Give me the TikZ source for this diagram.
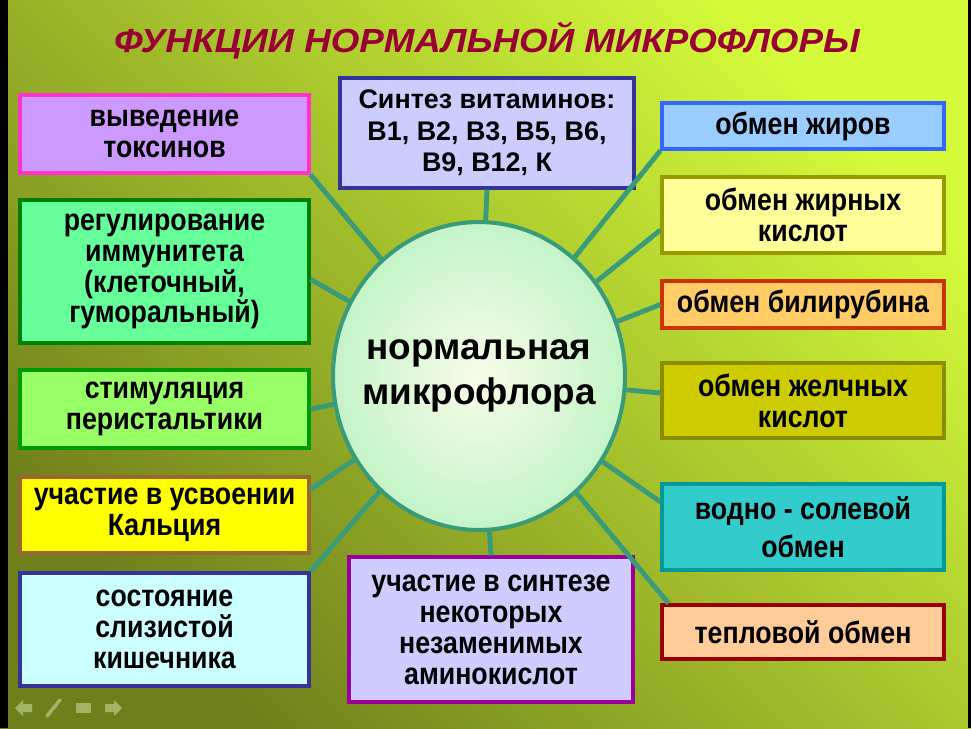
\documentclass[tikz,border=0pt]{standalone}
\usepackage{fontspec}
\setmainfont{Liberation Sans}
\newfontfamily\titlefont[FakeStretch=1.1]{Liberation Sans}
\newfontfamily\boxfont[FakeStretch=0.87]{Liberation Sans}
\usetikzlibrary{shapes.geometric}

\definecolor{titlered}{HTML}{990033}
\definecolor{linkgreen}{HTML}{3A9B78}
\definecolor{bgdark}{HTML}{6F7F1C}
\definecolor{bgmid}{HTML}{A9C52C}
\definecolor{bglight}{HTML}{D4FA3A}
\definecolor{navgrey}{HTML}{C8D89A}

\begin{document}
\begin{tikzpicture}[x=0.02cm, y=-0.02cm,
    func/.style={draw, line width=1.8pt, inner sep=0pt, align=center,
        font=\boxfont\bfseries\fontsize{17.5}{17.6}\selectfont},
    lcol/.style={func, minimum width=5.78cm},
    rcol/.style={func, minimum width=5.64cm},
    link/.style={color=linkgreen, line width=2.8pt}]
    \useasboundingbox (0,0) rectangle (971,728);
    \shade[top color=bglight, middle color=bgmid, bottom color=bgdark, shading angle=-45]
        (0,0) rectangle (971,728);
    \fill[black] (0,0) rectangle (8,728);
    \fill[black] (968,0) rectangle (971,728);

    \node[anchor=base, text=titlered, font=\titlefont\bfseries\itshape\fontsize{19}{20}\selectfont]
        (title) at (487,52) {ФУНКЦИИ НОРМАЛЬНОЙ МИКРОФЛОРЫ};

    \node[ellipse, draw=linkgreen, line width=2.3pt, inner color={rgb,255:red,248;green,252;blue,232},
        outer color={rgb,255:red,196;green,244;blue,200}, minimum width=5.84cm, minimum height=6.16cm,
        inner sep=0pt, label={[align=center, font=\bfseries\fontsize{21}{25.5}\selectfont]center:нормальная\\микрофлора}]
        (mf) at (479,376) {};

    \node[lcol, minimum height=1.56cm, draw={rgb,255:red,255;green,51;blue,204}, fill={rgb,255:red,204;green,153;blue,255}]
        (tox) at (164.5,134) {выведение\\токсинов};
    \node[lcol, minimum height=2.86cm, draw={rgb,255:red,0;green,128;blue,0}, fill={rgb,255:red,102;green,255;blue,153}]
        (imm) at (164.5,271.5) {регулирование\\иммунитета\\(клеточный,\\гуморальный)};
    \node[lcol, minimum height=1.56cm, draw={rgb,255:red,0;green,153;blue,0}, fill={rgb,255:red,153;green,255;blue,102}]
        (per) at (164.5,409) {стимуляция\\перистальтики};
    \node[lcol, minimum height=1.52cm, draw={rgb,255:red,153;green,102;blue,51}, fill={rgb,255:red,255;green,255;blue,0}]
        (kal) at (164.5,515) {участие в усвоении\\Кальция};
    \node[lcol, minimum height=2.26cm, draw={rgb,255:red,51;green,51;blue,153}, fill={rgb,255:red,204;green,255;blue,255}]
        (muc) at (164.5,629.5) {состояние\\слизистой\\кишечника};

    \node[func, minimum width=5.88cm, minimum height=2.2cm, font=\bfseries\fontsize{15.3}{17.9}\selectfont,
        draw={rgb,255:red,51;green,51;blue,153}, fill={rgb,255:red,204;green,204;blue,255}]
        (syn) at (487,133) {Синтез витаминов:\\B1, B2, B3, B5, B6,\\B9, B12, К};
    \node[func, minimum width=5.68cm, minimum height=2.9cm,
        draw={rgb,255:red,153;green,0;blue,153}, fill={rgb,255:red,208;green,204;blue,255}]
        (amino) at (491,629.5) {участие в синтезе\\некоторых\\незаменимых\\аминокислот};

    \node[rcol, minimum height=0.92cm, draw={rgb,255:red,51;green,102;blue,255}, fill={rgb,255:red,153;green,204;blue,255}]
        (zh) at (803,126) {обмен жиров};
    \node[rcol, minimum height=1.52cm, draw={rgb,255:red,153;green,153;blue,0}, fill={rgb,255:red,255;green,255;blue,153}]
        (fa) at (803,215) {обмен жирных\\кислот};
    \node[rcol, minimum height=0.94cm, draw={rgb,255:red,204;green,51;blue,0}, fill={rgb,255:red,255;green,204;blue,102}]
        (bil) at (803,304.5) {обмен билирубина};
    \node[rcol, minimum height=1.5cm, draw={rgb,255:red,140;green,140;blue,0}, fill={rgb,255:red,204;green,204;blue,0}]
        (bile) at (803,400.5) {обмен желчных\\кислот};
    \node[rcol, minimum height=1.72cm, draw={rgb,255:red,0;green,153;blue,153}, fill={rgb,255:red,51;green,204;blue,204}]
        (ws) at (803,527) {водно - солевой\\[4pt]обмен};
    \node[rcol, minimum height=1.08cm, draw={rgb,255:red,153;green,0;blue,0}, fill={rgb,255:red,255;green,204;blue,153}]
        (heat) at (803,632) {тепловой обмен};

    \draw[link] (syn.south) -- (mf);
    \draw[link] (amino.north) -- (mf);
    \draw[link] (tox.south east) -- (mf);
    \draw[link] (imm.357) -- (mf);
    \draw[link] (per.east) -- (mf);
    \draw[link] (kal.10) -- (mf);
    \draw[link] (muc.north east) -- (mf);
    \draw[link] (zh.south west) -- (mf);
    \draw[link] (fa.186) -- (mf);
    \draw[link] (bil.west) -- (mf);
    \draw[link] (bile.177) -- (mf);
    \draw[link] (ws.170) -- (mf);
    \draw[link] (heat.168) -- (mf);

    \fill[navgrey, opacity=0.6] (15,708) -- (23,700) -- (23,704) -- (32,704) -- (32,712) -- (23,712) -- (23,716) -- cycle;
    \draw[navgrey, opacity=0.6, line width=2pt, line cap=round] (47,716) -- (60,700);
    \fill[navgrey, opacity=0.6] (76,703) rectangle (91,713);
    \fill[navgrey, opacity=0.6] (122,708) -- (114,700) -- (114,704) -- (105,704) -- (105,712) -- (114,712) -- (114,716) -- cycle;
\end{tikzpicture}
\end{document}
